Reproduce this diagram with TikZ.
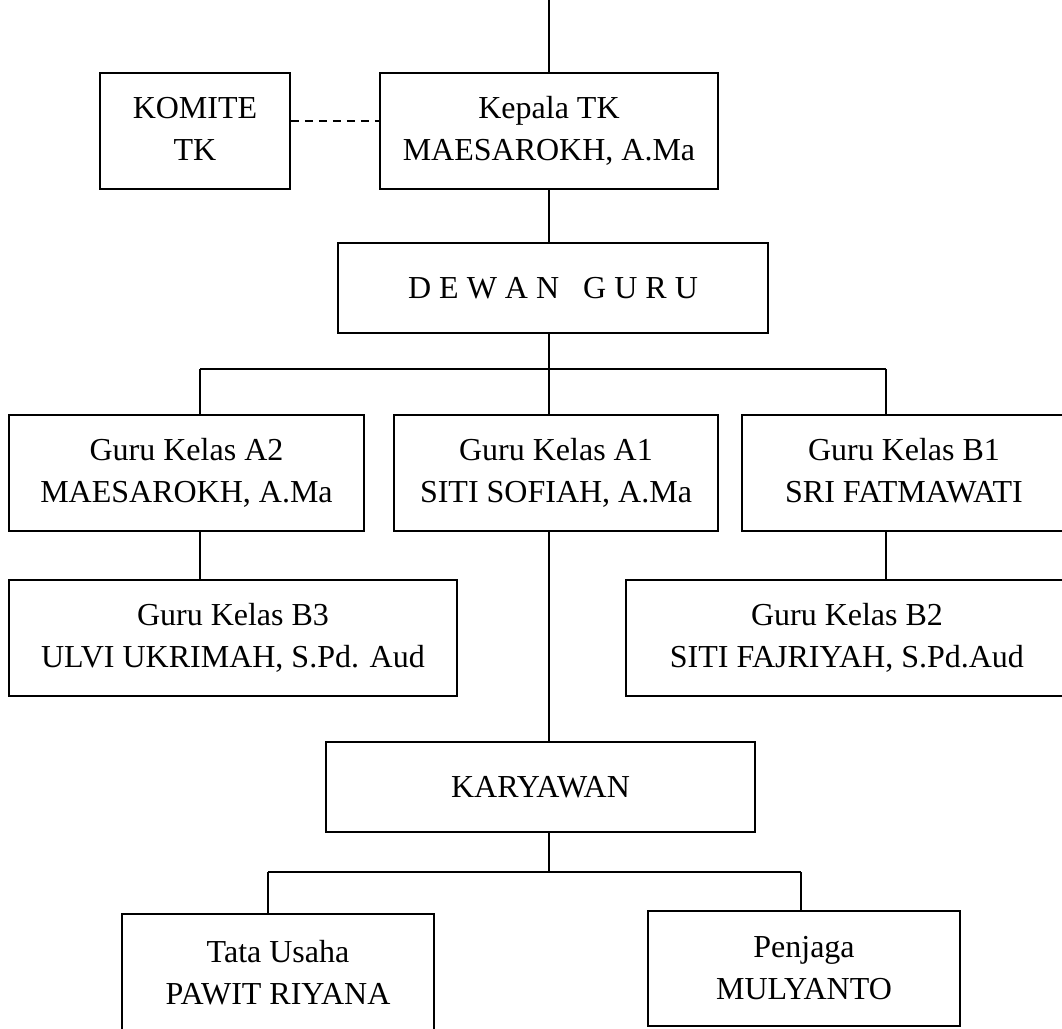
\documentclass[tikz,border=0pt]{standalone}
\usepackage{fontspec}
\setmainfont{Liberation Serif}

\tikzset{every picture/.style={line width=1.2pt}}
\tikzset{
	kotak/.style={draw, align=center, inner sep=0pt, font=\fontsize{24}{31.5}\selectfont},
	putus/.style={dashed, dash pattern=on 6pt off 4.5pt}
}

\begin{document}
\begin{tikzpicture}[x=0.75pt,y=0.75pt,yscale=-1,xscale=1]
	\useasboundingbox (0,0) rectangle (1062,1028);
	
	%Shape: Rectangle [kepala]
	\node [kotak, minimum width=253.5pt, minimum height=87pt] (kepala) at (549,131) {Kepala TK\\MAESAROKH, A.Ma};
	%Shape: Rectangle [komite]
	\node [kotak, minimum width=142.5pt, minimum height=87pt] (komite) at (195,131) {KOMITE\\TK\vphantom{,}};
	%Shape: Rectangle [dewan]
	\node [kotak, minimum width=322.5pt, minimum height=67.5pt] (dewan) at (553,288) {D E W A N~~~G U R U};
	%Shape: Rectangle [a2]
	\node [kotak, minimum width=266.25pt, minimum height=87pt] (a2) at (186.5,473) {Guru Kelas A2\\MAESAROKH, A.Ma};
	%Shape: Rectangle [a1]
	\node [kotak, minimum width=243pt, minimum height=87pt] (a1) at (556,473) {Guru Kelas A1\\SITI SOFIAH, A.Ma};
	%Shape: Rectangle [b1]
	\node [kotak, minimum width=243pt, minimum height=87pt] (b1) at (904,473) {Guru Kelas B1\\SRI FATMAWATI\vphantom{,}};
	%Shape: Rectangle [b3]
	\node [kotak, minimum width=336pt, minimum height=87pt] (b3) at (233,638) {Guru Kelas B3\\ULVI UKRIMAH, S.Pd. Aud};
	%Shape: Rectangle [b2]
	\node [kotak, minimum width=331.5pt, minimum height=87pt] (b2) at (847,638) {Guru Kelas B2\\SITI FAJRIYAH, S.Pd.Aud};
	%Shape: Rectangle [karyawan]
	\node [kotak, minimum width=321.75pt, minimum height=67.5pt] (karyawan) at (540.5,787) {KARYAWAN};
	%Shape: Rectangle [tata]
	\node [kotak, minimum width=234pt, minimum height=87.75pt] (tata) at (278,972.5) {Tata Usaha\\PAWIT RIYANA};
	%Shape: Rectangle [penjaga]
	\node [kotak, minimum width=234pt, minimum height=86.25pt] (penjaga) at (804,968.5) {Penjaga\\MULYANTO};
	
	% bus points
	\coordinate (atas) at (549,0);
	\coordinate (bus) at (549,369);
	\coordinate (busA2) at (200,369);
	\coordinate (busB1) at (886,369);
	\coordinate (bawah) at (549,872);
	\coordinate (busTU) at (268,872);
	\coordinate (busPJ) at (801,872);
	
	%Straight Lines
	\draw (atas) -- (atas |- kepala.north) ;
	\draw [putus] ([yshift=-7.5pt]komite.east) -- ([yshift=-7.5pt]kepala.west) ;
	\draw (bus |- kepala.south) -- (bus |- dewan.north) ;
	\draw (bus |- dewan.south) -- (bus) ;
	\draw (busA2) -- (busB1) ;
	\draw (busA2) -- (busA2 |- a2.north) ;
	\draw (bus) -- (bus |- a1.north) ;
	\draw (busB1) -- (busB1 |- b1.north) ;
	\draw (busA2 |- a2.south) -- (busA2 |- b3.north) ;
	\draw (busB1 |- b1.south) -- (busB1 |- b2.north) ;
	\draw (bus |- a1.south) -- (bus |- karyawan.north) ;
	\draw (bawah |- karyawan.south) -- (bawah) ;
	\draw (busTU) -- (busPJ) ;
	\draw (busTU) -- (busTU |- tata.north) ;
	\draw (busPJ) -- (busPJ |- penjaga.north) ;
	
\end{tikzpicture}
\end{document}
